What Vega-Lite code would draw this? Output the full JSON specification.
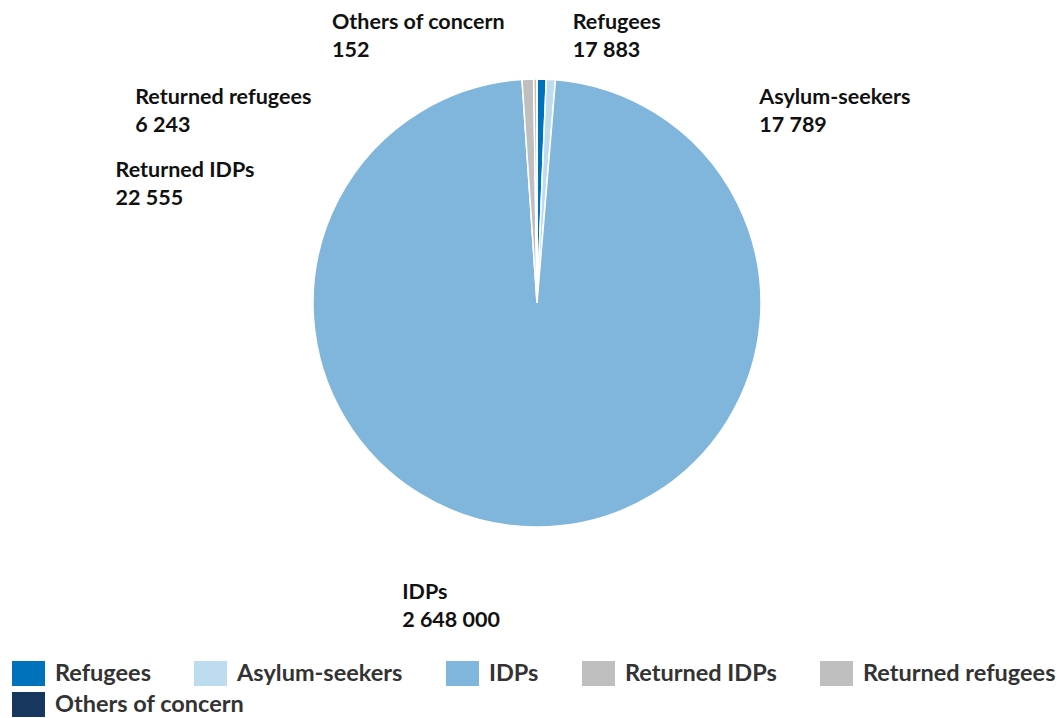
{
  "$schema": "https://vega.github.io/schema/vega-lite/v6.json",
  "width": 1052,
  "height": 606,
  "autosize": "none",
  "padding": {"left": 11, "top": 0, "right": 0, "bottom": 112},
  "background": "white",
  "config": {
    "view": {"stroke": null},
    "locale": {"number": {"decimal": ".", "thousands": " ", "grouping": [3], "currency": ["", ""]}},
    "font": "Lato",
    "legend": {
      "title": null,
      "orient": "none",
      "direction": "horizontal",
      "symbolType": "M-1,-0.757H1V0.757H-1Z",
      "symbolSize": 1089,
      "symbolStrokeWidth": 0,
      "symbolOpacity": 1,
      "labelFont": "Lato",
      "labelFontWeight": "bold",
      "labelFontSize": 23.5,
      "labelLimit": 400,
      "labelColor": "#333333",
      "labelOffset": 10,
      "columnPadding": 43,
      "padding": 0
    }
  },
  "data": {
    "values": [
      {"category": "Refugees", "value": 17883},
      {"category": "Asylum-seekers", "value": 17789},
      {"category": "IDPs", "value": 2648000},
      {"category": "Returned IDPs", "value": 22555},
      {"category": "Returned refugees", "value": 6243},
      {"category": "Others of concern", "value": 152}
    ]
  },
  "transform": [
    {"window": [{"op": "row_number", "as": "rank"}]},
    {"calculate": "datum.category + '\\n' + format(datum.value, ',d')", "as": "label"}
  ],
  "encoding": {
    "theta": {"field": "value", "type": "quantitative", "stack": true},
    "order": {"field": "rank", "type": "quantitative"}
  },
  "resolve": {"scale": {"color": "independent"}, "legend": {"color": "independent"}},
  "layer": [
    {
      "mark": {"type": "arc", "outerRadius": 224, "stroke": "white", "strokeWidth": 1.5},
      "encoding": {
        "color": {
          "field": "category",
          "type": "nominal",
          "scale": {
            "domain": ["Refugees", "Asylum-seekers", "IDPs", "Returned IDPs", "Returned refugees", "Others of concern"],
            "range": ["#0072BC", "#BDDCEF", "#80B6DC", "#BFBFBF", "#BFBFBF", "#18375F"]
          },
          "legend": {
            "values": ["Refugees", "Asylum-seekers", "IDPs", "Returned IDPs", "Returned refugees"],
            "legendX": 1,
            "legendY": 657
          }
        }
      }
    },
    {
      "transform": [{"filter": "datum.category === 'Others of concern'"}],
      "mark": {"type": "arc", "outerRadius": 0, "strokeWidth": 0},
      "encoding": {
        "color": {
          "field": "category",
          "type": "nominal",
          "scale": {"domain": ["Others of concern"], "range": ["#18375F"]},
          "legend": {"legendX": 1, "legendY": 688}
        }
      }
    },
    {
      "mark": {"type": "text", "radius": 230, "align": "left", "baseline": "alphabetic", "dx": 31, "dy": -44, "lineBreak": "\n", "lineHeight": 28, "font": "Lato", "fontWeight": "bold", "fontSize": 21.5, "color": "#111111"},
      "encoding": {"detail": {"field": "category"}, "text": {"condition": {"test": "datum.category === 'Refugees'", "field": "label"}, "value": ""}}
    },
    {
      "mark": {"type": "text", "radius": 230, "align": "left", "baseline": "alphabetic", "dx": 208, "dy": 31, "lineBreak": "\n", "lineHeight": 28, "font": "Lato", "fontWeight": "bold", "fontSize": 21.5, "color": "#111111"},
      "encoding": {"detail": {"field": "category"}, "text": {"condition": {"test": "datum.category === 'Asylum-seekers'", "field": "label"}, "value": ""}}
    },
    {
      "mark": {"type": "text", "radius": 230, "align": "left", "baseline": "alphabetic", "dx": -133, "dy": 66, "lineBreak": "\n", "lineHeight": 28, "font": "Lato", "fontWeight": "bold", "fontSize": 21.5, "color": "#111111"},
      "encoding": {"detail": {"field": "category"}, "text": {"condition": {"test": "datum.category === 'IDPs'", "field": "label"}, "value": ""}}
    },
    {
      "mark": {"type": "text", "radius": 230, "align": "left", "baseline": "alphabetic", "dx": -412, "dy": 104, "lineBreak": "\n", "lineHeight": 28, "font": "Lato", "fontWeight": "bold", "fontSize": 21.5, "color": "#111111"},
      "encoding": {"detail": {"field": "category"}, "text": {"condition": {"test": "datum.category === 'Returned IDPs'", "field": "label"}, "value": ""}}
    },
    {
      "mark": {"type": "text", "radius": 230, "align": "left", "baseline": "alphabetic", "dx": -400, "dy": 31, "lineBreak": "\n", "lineHeight": 28, "font": "Lato", "fontWeight": "bold", "fontSize": 21.5, "color": "#111111"},
      "encoding": {"detail": {"field": "category"}, "text": {"condition": {"test": "datum.category === 'Returned refugees'", "field": "label"}, "value": ""}}
    },
    {
      "mark": {"type": "text", "radius": 230, "align": "left", "baseline": "alphabetic", "dx": -205, "dy": -44, "lineBreak": "\n", "lineHeight": 28, "font": "Lato", "fontWeight": "bold", "fontSize": 21.5, "color": "#111111"},
      "encoding": {"detail": {"field": "category"}, "text": {"condition": {"test": "datum.category === 'Others of concern'", "field": "label"}, "value": ""}}
    }
  ]
}
